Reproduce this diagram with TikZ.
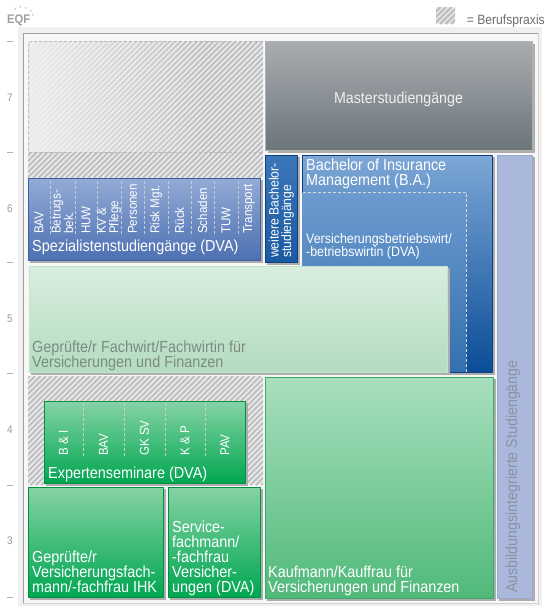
\documentclass[tikz,border=0pt]{standalone}
\usepackage{fontspec}
\setmainfont{Liberation Sans}[FakeStretch=0.9]
\usetikzlibrary{fadings}
\setlength{\lineskiplimit}{-20pt}

\definecolor{mastertop}{HTML}{A9ADB1}
\definecolor{masterbot}{HTML}{6C757A}
\definecolor{spectop}{HTML}{94ABD6}
\definecolor{specbot}{HTML}{4C70B2}
\definecolor{specline}{HTML}{3B5FA0}
\definecolor{darkblue}{HTML}{1A5AA2}
\definecolor{darkbluetop}{HTML}{3B76B8}
\definecolor{darkblueline}{HTML}{0F3F7E}
\definecolor{batop}{HTML}{7DA7D6}
\definecolor{babot}{HTML}{0A4D97}
\definecolor{vbwtop}{HTML}{6D9BCF}
\definecolor{vbwbot}{HTML}{3470AF}
\definecolor{ausb}{HTML}{AAB8DC}
\definecolor{ausbline}{HTML}{9AA8CC}
\definecolor{ausbtext}{HTML}{8A92A8}
\definecolor{fwtop}{HTML}{DAEEDF}
\definecolor{fwbot}{HTML}{B3DCBF}
\definecolor{fwline}{HTML}{C2E4CA}
\definecolor{fwtext}{HTML}{7D8A82}
\definecolor{kftop}{HTML}{A9DFBE}
\definecolor{kfbot}{HTML}{50B97A}
\definecolor{kfline}{HTML}{3CAA66}
\definecolor{grtop}{HTML}{86D3A5}
\definecolor{grbot}{HTML}{00A651}
\definecolor{grline}{HTML}{00903F}
\definecolor{hatchbg}{HTML}{EBEBEC}
\definecolor{hatchline}{HTML}{BDBFC1}

\begin{document}
\begin{tikzpicture}[x=1pt,y=-1pt,line join=round,
  lbl/.style={inner sep=0pt,text=white,align=left,font=\fontsize{16}{15}\selectfont},
  small/.style={lbl,font=\fontsize{13.8}{13}\selectfont},
  col/.style={lbl,font=\fontsize{12.9}{12.3}\selectfont,rotate=90,anchor=west},
  shad/.style={fill=black!32},
  sep/.style={white!80!black,densely dashed,line width=0.5pt},
  hatch/.style={hatchline,line width=1.8pt},
  tick/.style={gray!60,line width=0.6pt},
  lvl/.style={text=gray!80,font=\fontsize{11}{11}\selectfont,inner sep=0pt}
]
\useasboundingbox (0,0) rectangle (545,608);

% panel and frame
\fill[gray!12] (18,27) rectangle (542,606);
\fill[gray!6] (23,33) rectangle (538,603);
\draw[gray!35,line width=0.8pt] (538,33) -- (538,603) -- (23,603);
\draw[gray!75,line width=0.9pt] (23,603) -- (23,33) -- (538,33);

% EQF levels
\foreach \y in {41,152,262,373,485,597}
  \draw[tick] (7,\y) -- (13,\y);
\foreach \y/\l in {98/7,209/6,319/5,430/4,541/3}
  \node[lvl] (lvl\l) at (10,\y) {\l};

% EQF logo
\node[inner sep=0pt,anchor=base west,text=gray!75,font=\bfseries\fontsize{12.5}{12}\selectfont] (eqf) at (7,23) {EQF};
\foreach \x/\y [count=\k] in {15.5/9,20.5/7,26/8.5,31/11.5,33/15.5}
  \node[inner sep=0pt,text=gray!65,font=\fontsize{5}{5}\selectfont] (star\k) at (\x,\y) {$\star$};

% legend
\begin{scope}
  \clip (436,7) rectangle (455,24);
  \fill[hatchbg] (436,7) rectangle (455,24);
  \foreach \i in {418,423.5,...,460}
    \draw[hatch,line width=2.2pt] (\i,24) -- (\i+17,7);
\end{scope}
\node[inner sep=0pt,anchor=base east,text=gray!85!black,font=\fontsize{13.5}{13}\selectfont] (legend) at (545,24.5) {= Berufspraxis};

% Berufspraxis areas
\begin{scope}
  \clip (28,41) rectangle (263,178);
  \fill[hatchbg] (28,41) rectangle (263,178);
  \foreach \i in {-110,-104.5,...,265}
    \draw[hatch] (\i,178) -- (\i+137,41);
\end{scope}
\fill[hatchbg!70!white,path fading=east,opacity=0.9] (29,41) rectangle (210,152);
\draw[gray!55,densely dashed,line width=0.6pt] (29,41) -- (262,41);
\draw[gray!55,densely dashed,line width=0.6pt] (29,152) -- (262,152);
\draw[gray!25,densely dashed,line width=0.6pt] (29,41) -- (29,152);
\begin{scope}
  \clip (28,376) rectangle (263,485);
  \fill[hatchbg] (28,376) rectangle (263,485);
  \foreach \i in {-85,-79.5,...,265}
    \draw[hatch] (\i,485) -- (\i+109,376);
\end{scope}

% Masterstudiengaenge
\fill[shad] (268,44) rectangle (535,153);
\shade[top color=mastertop,middle color=masterbot,bottom color=masterbot,draw=gray!60] (265,41) rectangle (532,150);
\node[lbl,anchor=base,text=white!94!black,font=\fontsize{15.8}{15}\selectfont] (master) at (398.5,103) {Masterstudiengänge};

% Ausbildungsintegrierte Studiengaenge
\fill[shad] (499,157) rectangle (535,601);
\fill[ausb,draw=ausbline,line width=0.8pt] (497,155) rectangle (532,598);
\node[col,font=\fontsize{15.8}{15}\selectfont,text=ausbtext] (ausbtxt) at (513,593) {Ausbildungsintegrierte Studiengänge};

% Bachelor of Insurance Management
\fill[shad] (304,157) rectangle (495,375);
\shade[top color=batop,bottom color=babot,draw=darkblueline,line width=0.8pt] (302,155) rectangle (492,372);
\shade[top color=vbwtop,bottom color=vbwbot] (302.5,192) rectangle (466,371.5);
\draw[white!85!black,densely dashed,line width=0.5pt] (302.5,192) -- (466,192) -- (466,371.5);
\node[lbl,anchor=base west] (bim) at (306,185) {Bachelor of Insurance\\Management (B.A.)};
\node[small,anchor=base west] (vbw) at (306,256.5) {Versicherungsbetriebswirt/\\-betriebswirtin (DVA)};

% weitere Bachelorstudiengaenge
\fill[shad] (267,157) rectangle (300,265);
\shade[top color=darkbluetop,middle color=darkblue,bottom color=darkblue,draw=darkblueline,line width=1pt] (265,155) rectangle (297,262);
\node[col,font=\fontsize{13.5}{12.5}\selectfont] (weitere) at (281.5,258) {weitere Bachelor-\\studiengänge};

% Spezialistenstudiengaenge
\fill[shad] (30,180) rectangle (263,263);
\shade[top color=spectop,middle color=specbot,bottom color=specbot,draw=specline,line width=0.8pt] (28,178) rectangle (260,260);
\foreach \x in {50,75,97,121,144,168,191,214,238}
  \draw[sep] (\x,181) -- (\x,236);
\foreach \x/\t [count=\k] in {39/BAV,62.5/{Betrugs-\\bek.},86/HUW,109/{KV \&\\Pflege},132.5/Personen,156/Risk Mgt.,179.5/Rück,202.5/Schaden,226/TUW,249/Transport}
  \node[col] (spec\k) at (\x,234) {\t};
\node[lbl,anchor=base west] (spec) at (32,251.5) {Spezialistenstudiengänge (DVA)};

% Fachwirt
\fill[shad] (31,268) rectangle (450,375);
\shade[top color=fwtop,middle color=fwbot,bottom color=fwbot,draw=fwline,line width=1pt] (29,266) rectangle (447,372);
\node[lbl,anchor=base west,text=fwtext] (fachwirt) at (32,367) {Geprüfte/r Fachwirt/Fachwirtin für\\Versicherungen und Finanzen};

% Expertenseminare
\fill[shad] (46,403) rectangle (248,486);
\shade[top color=grtop,middle color=grbot,bottom color=grbot,draw=grline,line width=0.8pt] (44,401) rectangle (245,483);
\foreach \x in {83,124,165,205}
  \draw[sep] (\x,403) -- (\x,458);
\foreach \x/\t [count=\k] in {63.5/B \& I,103.5/BAV,144.5/GK SV,185/K \& P,225/PAV}
  \node[col] (exp\k) at (\x,456) {\t};
\node[lbl,anchor=base west] (expert) at (48,478.5) {Expertenseminare (DVA)};

% Kaufmann/Kauffrau
\fill[shad] (267,379) rectangle (496,601);
\shade[top color=kftop,middle color=kfbot,bottom color=kfbot,draw=kfline,line width=0.8pt] (265,377) rectangle (493,598);
\node[lbl,anchor=base west] (kauf) at (268,592.5) {Kaufmann/Kauffrau für\\Versicherungen und Finanzen};

% Versicherungsfachmann and Servicefachmann
\fill[shad] (30,489) rectangle (166,600);
\shade[top color=grtop,middle color=grbot,bottom color=grbot,draw=grline,line width=0.8pt] (28,487) rectangle (163,597);
\node[lbl,anchor=base west] (vfm) at (32,592) {Geprüfte/r\\Versicherungsfach-\\mann/-fachfrau IHK};
\fill[shad] (170,489) rectangle (263,600);
\shade[top color=grtop,middle color=grbot,bottom color=grbot,draw=grline,line width=0.8pt] (168,487) rectangle (260,597);
\node[lbl,anchor=base west] (sfm) at (172,592) {Service-\\fachmann/\\-fachfrau\\Versicher-\\ungen (DVA)};
\end{tikzpicture}
\end{document}
